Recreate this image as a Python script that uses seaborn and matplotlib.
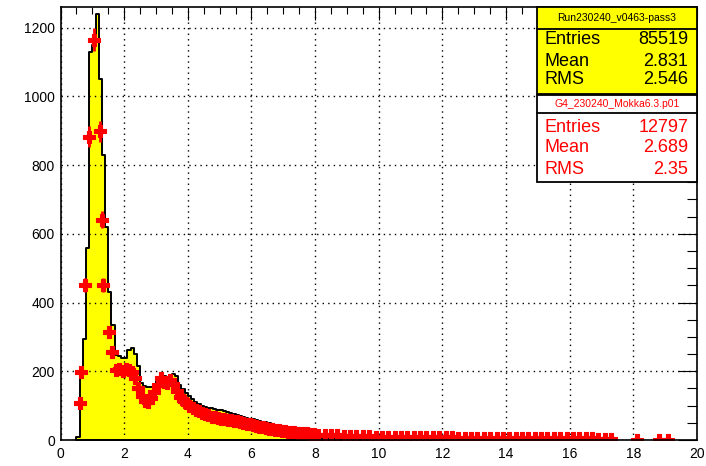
import numpy as np
import pandas as pd
import matplotlib
matplotlib.use("Agg")
import matplotlib.pyplot as plt
import seaborn as sns
from matplotlib.patches import Rectangle
from matplotlib.lines import Line2D
from matplotlib.ticker import MultipleLocator

# ---------------- data ----------------
# black (yellow-filled) histogram, 0.1 wide bins from 0.5 to 8.0
black_fine_start = 0.5
black_fine_width = 0.1
black_fine = [8, 190, 295, 560, 1130, 1150, 1240, 1050, 830, 620,
              430, 335, 248, 243, 240, 240, 262, 268, 250, 215,
              165, 158, 155, 155, 160, 175, 180, 185, 183, 190,
              192, 185, 160, 148, 138, 128, 118, 110, 104, 100,
              96, 94, 92, 90, 88, 86, 84, 82, 79, 76,
              73, 70, 67, 64, 62, 60, 58, 55, 53, 51,
              49, 47, 45, 43, 40, 35, 30, 25, 21, 17,
              14, 11, 9, 7, 6]
# coarse tail, 0.5 wide bins from 8.0 to 17.5
black_coarse_start = 8.0
black_coarse_width = 0.5
black_coarse = [5, 4, 4, 3, 3, 3, 2, 2, 2, 2, 2, 2, 1, 1, 1, 1, 1, 1, 1]

# red points (simulation)
red_peak_x = [0.60, 0.65, 0.78, 0.91, 1.04, 1.23, 1.30, 1.35, 1.51, 1.62]
red_peak_y = [107, 199, 451, 883, 1165, 898, 641, 451, 315, 257]
red_mid_start = 1.75
red_mid_step = 0.1
red_mid = [205, 206, 200, 208, 204, 198, 180, 150, 128, 114,
           112, 122, 140, 160, 180, 170, 165, 175, 162, 142,
           126, 116, 107, 100, 92, 88, 83, 78, 75, 72,
           68, 66, 64, 62, 60, 58, 57, 55, 54, 52,
           50, 48, 46, 44, 41, 39, 37, 35, 33, 31,
           30, 28, 27, 26, 24, 23, 22, 21, 21, 20,
           19, 18, 17]
red_tail_start = 8.1
red_tail_step = 0.2
red_tail = [16, 15, 14, 14, 13, 12, 12, 11, 11, 10,
            10, 10, 9, 9, 9, 9, 8, 8, 8, 8,
            8, 8, 7, 7, 7, 7, 7, 7, 7, 6,
            6, 6, 6, 6, 6, 6, 6, 5, 5, 5,
            5, 5, 5, 5, 4, 4, 3]
red_far_x = [18.1, 18.8, 19.1]
red_far_y = [1, 1, 1]

stats_data_title = "Run230240_v0463-pass3"
stats_data = [("Entries", "85519"), ("Mean", "2.831"), ("RMS", "2.546")]
stats_mc_title = "G4_230240_Mokka6.3.p01"
stats_mc = [("Entries", "12797"), ("Mean", "2.689"), ("RMS", "2.35")]

x_major = list(range(0, 21, 2))
y_major = list(range(0, 1201, 200))

# ---------------- figure ----------------
W, H = 706, 466
sns.set_style("white")
plt.rcParams["font.family"] = ["Liberation Sans", "DejaVu Sans"]
fig = plt.figure(figsize=(W / 100, H / 100), dpi=100)
ax = fig.add_axes([60.5 / W, 1 - 440 / H, (697 - 60.5) / W, (440 - 7) / H])

fine_edges = black_fine_start + black_fine_width * np.arange(len(black_fine) + 1)
coarse_edges = black_coarse_start + black_coarse_width * np.arange(len(black_coarse) + 1)
edges = [float(e) for e in np.concatenate([fine_edges, coarse_edges[1:]])]
centers = [0.5 * (a + b) for a, b in zip(edges[:-1], edges[1:])]
hist_df = pd.DataFrame({"x": centers, "w": black_fine + black_coarse})

sns.histplot(data=hist_df, x="x", weights="w", bins=edges, element="step",
             fill=True, facecolor="#ffff00", edgecolor="black", linewidth=1.4,
             ax=ax, zorder=2)

# red points
mid_x = red_mid_start + red_mid_step * np.arange(len(red_mid))
tail_x = red_tail_start + red_tail_step * np.arange(len(red_tail))
rx = np.concatenate([red_peak_x, mid_x, tail_x, red_far_x])
ry = np.concatenate([red_peak_y, red_mid, red_tail, red_far_y]).astype(float)
rxe = np.concatenate([np.full(len(red_peak_x), 0.05), np.full(len(red_mid), 0.05),
                      np.full(len(red_tail), 0.1), np.full(len(red_far_x), 0.05)])
red_df = pd.DataFrame({"x": rx, "y": ry})
ax.errorbar(rx, ry, yerr=np.sqrt(ry), xerr=rxe, fmt="none", ecolor="red",
            elinewidth=2.0, capsize=0, zorder=3)
sns.scatterplot(data=red_df, x="x", y="y", marker="P", s=75, color="red",
                edgecolor="red", linewidth=0.8, ax=ax, zorder=4, legend=False)

ax.set_xlim(0, 20)
ax.set_ylim(0, 1260)
ax.set_xlabel("")
ax.set_ylabel("")
ax.set_xticks(x_major)
ax.set_yticks(y_major)
ax.set_xticklabels([str(v) for v in x_major])
ax.set_yticklabels([str(v) for v in y_major])
ax.xaxis.set_minor_locator(MultipleLocator(0.5))
ax.yaxis.set_minor_locator(MultipleLocator(50))
ax.tick_params(axis="both", which="both", direction="in", top=True, right=True,
               width=0.8, colors="black", labelsize=10)
ax.tick_params(axis="x", which="major", length=9.4, pad=5)
ax.tick_params(axis="x", which="minor", length=4.7)
ax.tick_params(axis="y", which="major", length=14, pad=4)
ax.tick_params(axis="y", which="minor", length=7)
ax.grid(True, which="major", color="black", linestyle=(0, (1, 3)), linewidth=1.0)
ax.set_axisbelow(False)
for gl in ax.get_xgridlines() + ax.get_ygridlines():
    gl.set_zorder(1.5)
for s in ax.spines.values():
    s.set_color("black")
    s.set_linewidth(1.2)
    s.set_zorder(5)


def fx(px):
    return px / W


def fy(py):
    return 1 - py / H


def stats_box(y_top, y_sep, y_bot, face, color, title, rows, row_y):
    x0, x1 = 537, 697
    fig.add_artist(Rectangle((fx(x0), fy(y_bot)), fx(x1) - fx(x0), fy(y_top) - fy(y_bot),
                             transform=fig.transFigure, facecolor=face,
                             edgecolor="black", linewidth=1.3, zorder=10))
    fig.add_artist(Line2D([fx(x0), fx(x1)], [fy(y_sep), fy(y_sep)],
                          transform=fig.transFigure, color="black", linewidth=1.3,
                          zorder=11))
    fig.text(fx((x0 + x1) / 2), fy((y_top + y_sep) / 2), title, ha="center",
             va="center", fontsize=7.5, color=color, zorder=12)
    for (lab, val), yy in zip(rows, row_y):
        fig.text(fx(545), fy(yy), lab, ha="left", va="center", fontsize=13,
                 color=color, zorder=12)
        fig.text(fx(688), fy(yy), val, ha="right", va="center", fontsize=13,
                 color=color, zorder=12)


stats_box(7, 29, 94, "#ffff00", "black", stats_data_title, stats_data, [39, 61, 80])
stats_box(95, 113, 182, "white", "#ff0000", stats_mc_title, stats_mc, [127, 148, 170])

fig.savefig("out.png", dpi=100)
